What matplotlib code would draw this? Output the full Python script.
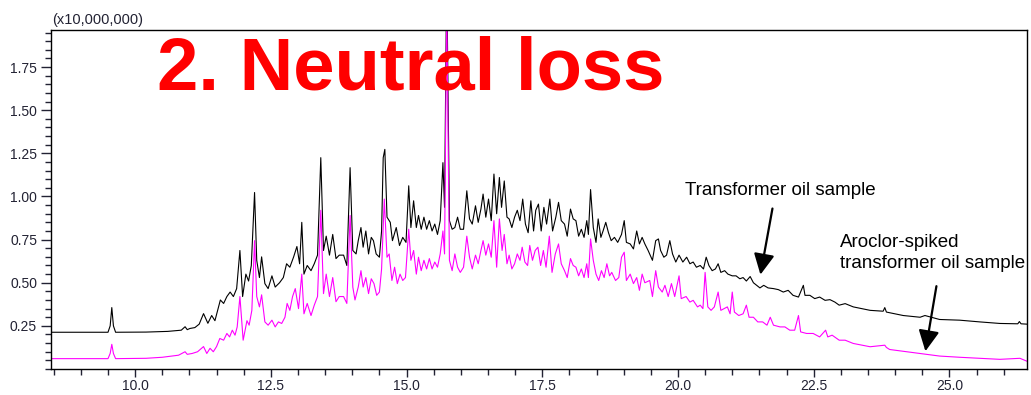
import numpy as np
import matplotlib
matplotlib.use("Agg")
import matplotlib.pyplot as plt
from matplotlib.ticker import MultipleLocator, FormatStrFormatter

# retention time (min) and intensity (x10,000,000)
oil_time = [8.45, 9.50, 9.54, 9.57, 9.60, 9.64, 10.20, 10.60, 10.85, 10.92, 10.96, 11.01, 11.10, 11.18,
            11.26, 11.34, 11.41, 11.47, 11.57, 11.63, 11.69, 11.75, 11.81, 11.87, 11.93, 11.98, 12.04,
            12.09, 12.14, 12.20, 12.24, 12.29, 12.33, 12.39, 12.45, 12.52, 12.58, 12.66, 12.73, 12.79,
            12.85, 12.92, 12.98, 13.03, 13.07, 13.11, 13.17, 13.24, 13.30, 13.36, 13.42, 13.47, 13.52,
            13.58, 13.64, 13.70, 13.76, 13.84, 13.90, 13.96, 14.01, 14.07, 14.11, 14.16, 14.20, 14.25,
            14.30, 14.35, 14.39, 14.44, 14.50, 14.54, 14.57, 14.60, 14.64, 14.70, 14.74, 14.81, 14.87,
            14.93, 14.99, 15.04, 15.08, 15.13, 15.18, 15.22, 15.27, 15.32, 15.37, 15.42, 15.47, 15.52,
            15.57, 15.62, 15.67, 15.70, 15.74, 15.79, 15.84, 15.89, 15.94, 15.99, 16.05, 16.11, 16.16,
            16.21, 16.27, 16.32, 16.37, 16.41, 16.46, 16.51, 16.56, 16.61, 16.66, 16.71, 16.75, 16.80,
            16.85, 16.89, 16.94, 16.99, 17.04, 17.09, 17.14, 17.19, 17.24, 17.29, 17.34, 17.38, 17.43,
            17.48, 17.53, 17.58, 17.64, 17.69, 17.75, 17.80, 17.85, 17.91, 17.96, 18.02, 18.07, 18.12,
            18.17, 18.22, 18.27, 18.32, 18.35, 18.39, 18.44, 18.49, 18.53, 18.58, 18.62, 18.67, 18.72,
            18.77, 18.83, 18.89, 18.96, 19.01, 19.05, 19.12, 19.18, 19.24, 19.29, 19.34, 19.39, 19.45,
            19.53, 19.59, 19.64, 19.68, 19.74, 19.79, 19.85, 19.90, 19.96, 20.02, 20.09, 20.16, 20.22,
            20.28, 20.34, 20.41, 20.47, 20.52, 20.57, 20.63, 20.69, 20.74, 20.79, 20.86, 20.92, 21.00,
            21.07, 21.14, 21.20, 21.26, 21.33, 21.39, 21.45, 21.51, 21.58, 21.66, 21.76, 21.85, 21.94,
            22.03, 22.12, 22.22, 22.31, 22.34, 22.43, 22.52, 22.61, 22.71, 22.80, 22.89, 22.97, 23.08,
            23.23, 23.54, 23.78, 23.81, 23.84, 24.15, 24.46, 24.55, 24.82, 25.19, 25.56, 25.93, 26.26,
            26.29, 26.32, 26.43]
oil_int = [0.213, 0.213, 0.25, 0.356, 0.25, 0.213, 0.214, 0.218, 0.225, 0.245, 0.228, 0.235, 0.24, 0.26,
           0.321, 0.265, 0.31, 0.28, 0.40, 0.38, 0.42, 0.446, 0.42, 0.466, 0.687, 0.42, 0.55,
           0.51, 0.60, 1.023, 0.63, 0.53, 0.65, 0.495, 0.466, 0.54, 0.475, 0.50, 0.53, 0.61,
           0.59, 0.65, 0.71, 0.61, 0.85, 0.55, 0.60, 0.57, 0.61, 0.66, 1.225, 0.687, 0.77,
           0.66, 0.78, 0.64, 0.66, 0.66, 0.60, 1.167, 0.687, 0.667, 0.744, 0.82, 0.706, 0.80,
           0.667, 0.763, 0.744, 0.667, 0.648, 0.80, 1.225, 1.273, 0.88, 0.85, 0.744, 0.82, 0.716,
           0.763, 0.734, 1.062, 0.82, 0.975, 0.82, 0.89, 0.81, 0.88, 0.81, 0.86, 0.80, 0.84,
           0.78, 0.86, 1.196, 0.937, 2.30, 0.86, 0.81, 0.82, 0.88, 0.81, 0.81, 1.033, 0.87,
           0.84, 0.946, 0.85, 0.927, 1.014, 0.88, 0.985, 0.86, 1.13, 0.90, 1.11, 0.937, 1.09,
           0.88, 0.87, 0.82, 0.88, 0.92, 0.86, 0.985, 0.84, 0.79, 0.975, 0.80, 0.92, 0.956,
           0.80, 0.937, 0.84, 0.985, 0.80, 0.88, 0.966, 0.86, 0.84, 0.77, 0.927, 0.87, 0.86,
           0.77, 0.81, 0.763, 0.86, 0.78, 1.04, 0.82, 0.734, 0.87, 0.763, 0.80, 0.85, 0.79,
           0.744, 0.763, 0.734, 0.78, 0.86, 0.734, 0.725, 0.696, 0.80, 0.725, 0.763, 0.725, 0.687,
           0.63, 0.744, 0.754, 0.687, 0.648, 0.66, 0.744, 0.667, 0.62, 0.66, 0.62, 0.648, 0.61,
           0.62, 0.59, 0.60, 0.58, 0.648, 0.60, 0.57, 0.58, 0.61, 0.56, 0.57, 0.55, 0.54,
           0.54, 0.523, 0.53, 0.51, 0.536, 0.50, 0.485, 0.47, 0.485, 0.47, 0.466, 0.46, 0.446,
           0.456, 0.427, 0.417, 0.485, 0.427, 0.427, 0.408, 0.417, 0.398, 0.402, 0.388, 0.37, 0.379,
           0.36, 0.34, 0.335, 0.356, 0.33, 0.31, 0.30, 0.31, 0.287, 0.283, 0.273, 0.264, 0.262,
           0.275, 0.262, 0.26]

spiked_time = [8.45, 9.50, 9.54, 9.57, 9.60, 9.64, 10.20, 10.50, 10.80, 10.92, 10.96, 11.05, 11.15,
               11.26, 11.32, 11.38, 11.44, 11.50, 11.56, 11.63, 11.69, 11.74, 11.79, 11.84, 11.88,
               11.93, 11.99, 12.06, 12.10, 12.15, 12.20, 12.24, 12.29, 12.33, 12.39, 12.45, 12.52,
               12.58, 12.64, 12.70, 12.76, 12.80, 12.85, 12.90, 12.95, 13.01, 13.07, 13.11, 13.17,
               13.24, 13.30, 13.36, 13.42, 13.47, 13.52, 13.58, 13.64, 13.70, 13.76, 13.84, 13.90,
               13.96, 14.01, 14.05, 14.11, 14.16, 14.20, 14.25, 14.30, 14.35, 14.40, 14.45, 14.50,
               14.54, 14.59, 14.64, 14.68, 14.73, 14.78, 14.83, 14.88, 14.93, 14.98, 15.04, 15.08,
               15.13, 15.18, 15.22, 15.27, 15.32, 15.37, 15.42, 15.47, 15.52, 15.57, 15.62, 15.67,
               15.70, 15.74, 15.79, 15.84, 15.89, 15.94, 15.99, 16.05, 16.11, 16.16, 16.21, 16.27,
               16.32, 16.37, 16.41, 16.46, 16.51, 16.56, 16.61, 16.66, 16.71, 16.76, 16.80, 16.85,
               16.89, 16.94, 16.99, 17.04, 17.09, 17.13, 17.18, 17.23, 17.27, 17.32, 17.37, 17.42,
               17.47, 17.52, 17.57, 17.63, 17.68, 17.74, 17.80, 17.85, 17.91, 17.96, 18.02, 18.07,
               18.12, 18.17, 18.22, 18.27, 18.32, 18.35, 18.39, 18.44, 18.49, 18.54, 18.59, 18.64,
               18.69, 18.74, 18.78, 18.85, 18.91, 18.96, 19.01, 19.05, 19.12, 19.18, 19.24, 19.29,
               19.34, 19.39, 19.48, 19.53, 19.59, 19.64, 19.71, 19.76, 19.82, 19.88, 19.94, 20.02,
               20.06, 20.15, 20.22, 20.28, 20.36, 20.41, 20.46, 20.50, 20.55, 20.61, 20.67, 20.74,
               20.79, 20.85, 20.91, 20.96, 21.00, 21.04, 21.12, 21.20, 21.26, 21.31, 21.39, 21.47,
               21.56, 21.64, 21.70, 21.76, 21.88, 21.97, 22.06, 22.15, 22.22, 22.26, 22.37, 22.49,
               22.61, 22.72, 22.76, 22.84, 22.97, 23.08, 23.23, 23.54, 23.81, 23.84, 23.90, 24.21,
               24.52, 24.82, 25.19, 25.56, 25.93, 26.30, 26.43]
spiked_int = [0.06, 0.06, 0.09, 0.143, 0.09, 0.06, 0.062, 0.068, 0.08, 0.10, 0.085, 0.09, 0.10,
              0.13, 0.09, 0.12, 0.10, 0.13, 0.177, 0.167, 0.206, 0.186, 0.225, 0.196, 0.244,
              0.42, 0.167, 0.28, 0.254, 0.34, 0.744, 0.42, 0.36, 0.43, 0.273, 0.254, 0.283,
              0.244, 0.273, 0.264, 0.30, 0.38, 0.34, 0.42, 0.466, 0.35, 0.55, 0.32, 0.38,
              0.31, 0.37, 0.42, 0.92, 0.437, 0.55, 0.42, 0.53, 0.39, 0.42, 0.42, 0.38,
              0.89, 0.475, 0.40, 0.475, 0.57, 0.475, 0.53, 0.437, 0.523, 0.495, 0.427, 0.446,
              0.58, 0.985, 0.648, 0.667, 0.513, 0.59, 0.495, 0.55, 0.513, 0.53, 0.81, 0.63,
              0.687, 0.55, 0.648, 0.57, 0.63, 0.58, 0.64, 0.58, 0.62, 0.59, 0.667, 0.80,
              0.667, 2.10, 0.63, 0.57, 0.667, 0.59, 0.56, 0.59, 0.77, 0.648, 0.58, 0.66,
              0.61, 0.687, 0.744, 0.66, 0.725, 0.648, 0.86, 0.59, 0.87, 0.687, 0.78, 0.61,
              0.66, 0.58, 0.61, 0.667, 0.63, 0.706, 0.62, 0.60, 0.716, 0.63, 0.687, 0.706,
              0.60, 0.687, 0.59, 0.77, 0.56, 0.667, 0.725, 0.61, 0.57, 0.53, 0.64, 0.60,
              0.59, 0.54, 0.58, 0.53, 0.61, 0.53, 0.754, 0.63, 0.55, 0.513, 0.57, 0.53,
              0.61, 0.54, 0.56, 0.513, 0.53, 0.648, 0.677, 0.513, 0.55, 0.495, 0.53, 0.456,
              0.55, 0.50, 0.513, 0.42, 0.57, 0.475, 0.446, 0.485, 0.42, 0.495, 0.42, 0.54,
              0.408, 0.42, 0.388, 0.398, 0.36, 0.37, 0.35, 0.56, 0.36, 0.34, 0.36, 0.446,
              0.34, 0.35, 0.36, 0.32, 0.446, 0.33, 0.31, 0.32, 0.37, 0.30, 0.30, 0.273,
              0.273, 0.254, 0.30, 0.254, 0.244, 0.244, 0.225, 0.225, 0.31, 0.215, 0.206, 0.206,
              0.186, 0.225, 0.186, 0.196, 0.167, 0.167, 0.148, 0.129, 0.138, 0.125, 0.113, 0.10,
              0.087, 0.075, 0.068, 0.062, 0.056, 0.062, 0.045]

xticks = [10.0, 12.5, 15.0, 17.5, 20.0, 22.5, 25.0]
yticks = [0.25, 0.50, 0.75, 1.00, 1.25, 1.50, 1.75]

plt.rcParams['font.family'] = ['Liberation Sans', 'DejaVu Sans']

fig = plt.figure(figsize=(10.31, 3.95), dpi=100)
ax = fig.add_axes([51/1031, 1 - 369/395, (1027 - 51)/1031, (369 - 30)/395])

ax.plot(oil_time, oil_int, color='black', lw=0.8)
ax.plot(spiked_time, spiked_int, color='#ff00ff', lw=0.8)

ax.set_xlim(8.45, 26.43)
ax.set_ylim(0, 1.965)
ax.set_xticks(xticks)
ax.set_yticks(yticks)
ax.xaxis.set_minor_locator(MultipleLocator(0.5))
ax.yaxis.set_minor_locator(MultipleLocator(0.05))
ax.xaxis.set_major_formatter(FormatStrFormatter('%.1f'))
ax.yaxis.set_major_formatter(FormatStrFormatter('%.2f'))
ax.tick_params(which='major', length=7, width=1, labelsize=10, colors='#222233', pad=3)
ax.tick_params(which='minor', length=4, width=1, colors='#222233')
ax.tick_params(axis='x', which='major', length=6, pad=1)
for sp in ax.spines.values():
    sp.set_linewidth(1.0)

fig.text(52/1031, 1 - 20/395, '(x10,000,000)', fontsize=10.5, color='#222233', va='center')

# big red heading on top of the plot
fig.text(157/1031, 1 - 89/395, '2. Neutral loss', fontsize=53.5, fontweight='bold',
         color='#ff0000', va='baseline', ha='left')

ax.text(20.13, 1.033, 'Transformer oil sample', fontsize=13.5, va='center', ha='left')
ax.annotate('', xy=(21.51, 0.531), xytext=(21.75, 0.946),
            arrowprops=dict(arrowstyle='-|>,head_length=0.7,head_width=0.35',
                            color='black', lw=1.6, mutation_scale=18))

ax.text(22.98, 0.67, 'Aroclor-spiked\ntransformer oil sample', fontsize=13.5,
        va='center', ha='left', linespacing=1.3)
ax.annotate('', xy=(24.55, 0.087), xytext=(24.77, 0.496),
            arrowprops=dict(arrowstyle='-|>,head_length=0.7,head_width=0.35',
                            color='black', lw=1.6, mutation_scale=18))

fig.savefig('out.png', dpi=100)
